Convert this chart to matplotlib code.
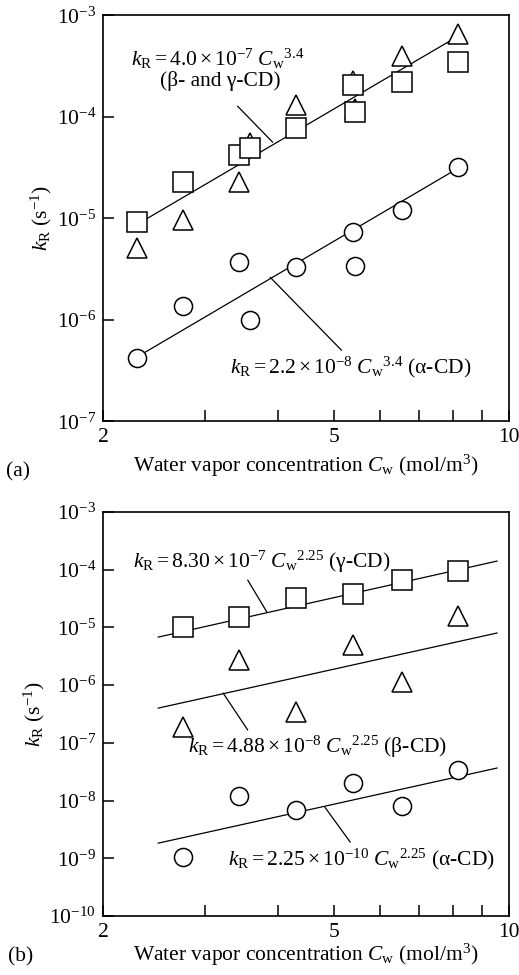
import numpy as np
import matplotlib
matplotlib.use("Agg")
import matplotlib.pyplot as plt
from matplotlib.ticker import FixedLocator, NullFormatter, LogFormatterSciNotation, FixedFormatter

plt.rcParams['font.family'] = ['Liberation Serif', 'DejaVu Serif']
plt.rcParams['mathtext.fontset'] = 'custom'
plt.rcParams['mathtext.rm'] = 'Liberation Serif'
plt.rcParams['mathtext.it'] = 'Liberation Serif:italic'
plt.rcParams['mathtext.bf'] = 'Liberation Serif:bold'

# ---- panel (a) data ----
a_sq_x = [2.29, 2.75, 3.43, 3.58, 4.30, 5.38, 5.44, 6.54, 8.17]
a_sq_y = [9.1e-6, 2.26e-5, 4.2e-5, 4.9e-5, 7.7e-5, 2.04e-4, 1.11e-4, 2.19e-4, 3.44e-4]
a_tri_x = [2.29, 2.75, 3.43, 3.58, 4.30, 5.38, 5.44, 6.54, 8.17]
a_tri_y = [5.1e-6, 9.5e-6, 2.26e-5, 5.5e-5, 1.3e-4, 2.25e-4, 1.2e-4, 4.0e-4, 6.6e-4]
a_cir_x = [2.29, 2.75, 3.43, 3.58, 4.30, 5.38, 5.44, 6.54, 8.17]
a_cir_y = [4.2e-7, 1.36e-6, 3.7e-6, 1.0e-6, 3.3e-6, 7.3e-6, 3.4e-6, 1.2e-5, 3.2e-5]
a_fit_x = [2.29, 8.17]
a_fit_bg_y = [8.7e-6, 6.2e-4]     # beta- and gamma-CD
a_fit_al_y = [4.3e-7, 3.1e-5]     # alpha-CD
a_yticks = [1e-7, 1e-6, 1e-5, 1e-4, 1e-3]

# ---- panel (b) data ----
b_x = [2.75, 3.43, 4.30, 5.38, 6.54, 8.17]
b_sq_y = [1.0e-5, 1.51e-5, 3.2e-5, 3.8e-5, 6.6e-5, 9.5e-5]
b_tri_y = [1.9e-7, 2.7e-6, 3.4e-7, 4.95e-6, 1.13e-6, 1.58e-5]
b_cir_y = [1.05e-9, 1.2e-8, 6.8e-9, 2.0e-8, 8.0e-9, 3.4e-8]
b_fit_x = [2.49, 9.54]
b_fit_ga_y = [6.8e-6, 1.41e-4]
b_fit_be_y = [4.0e-7, 8.0e-6]
b_fit_al_y = [1.83e-9, 3.66e-8]
b_yticks = [1e-10, 1e-9, 1e-8, 1e-7, 1e-6, 1e-5, 1e-4, 1e-3]

x_major = [2, 5, 10]
x_minor = [3, 4, 6, 7, 8, 9]

FS = 15.5
xlabel = r'Water vapor concentration $C_{\mathrm{w}}$ (mol/m$^3$)'
ylabel = r'$k_{\mathrm{R}}$ (s$^{-1}$)'

fig = plt.figure(figsize=(5.19, 9.75), dpi=100)
ax_a = fig.add_axes([0.1985, 0.568, 0.782, 0.4164])
ax_b = fig.add_axes([0.1985, 0.0605, 0.782, 0.4144])

mk = dict(mfc='white', mec='black', mew=1.1, ls='none', zorder=3)


def style_axes(ax, yticks, xpad):
    ax.set_xscale('log')
    ax.set_yscale('log')
    ax.set_xlim(2, 10)
    ax.set_ylim(yticks[0], yticks[-1])
    ax.xaxis.set_major_locator(FixedLocator(x_major))
    ax.xaxis.set_major_formatter(FixedFormatter([str(v) for v in x_major]))
    ax.xaxis.set_minor_locator(FixedLocator(x_minor))
    ax.xaxis.set_minor_formatter(NullFormatter())
    ax.yaxis.set_major_locator(FixedLocator(yticks))
    ax.yaxis.set_major_formatter(LogFormatterSciNotation())
    ax.yaxis.set_minor_locator(FixedLocator([]))
    ax.tick_params(which='both', direction='in', length=8, width=1.1,
                   top=False, right=False, labelsize=FS, pad=5)
    for s in ax.spines.values():
        s.set_linewidth(1.2)
    ax.set_xlabel(xlabel, fontsize=FS, labelpad=xpad)
    ax.set_ylabel(ylabel, fontsize=FS, labelpad=2)


# panel (a)
ax = ax_a
ax.plot(a_fit_x, a_fit_bg_y, color='black', lw=0.9, zorder=2)
ax.plot(a_fit_x, a_fit_al_y, color='black', lw=0.9, zorder=2)
ax.plot(a_cir_x, a_cir_y, marker='o', ms=13, **mk)
ax.plot(a_tri_x, a_tri_y, marker='^', ms=14, **mk)
ax.plot(a_sq_x, a_sq_y, marker='s', ms=14, **mk)
style_axes(ax, a_yticks, 4)
ax.annotate('', xy=(3.92, 5.6e-5), xytext=(3.41, 1.27e-4),
            arrowprops=dict(arrowstyle='-', lw=0.9, shrinkA=0, shrinkB=0))
ax.annotate('', xy=(3.88, 2.62e-6), xytext=(5.15, 5.0e-7),
            arrowprops=dict(arrowstyle='-', lw=0.9, shrinkA=0, shrinkB=0))
ax.text(0.069, 0.893, r'$k_{\mathrm{R}}=4.0\times10^{-7}\ {C_{\mathrm{w}}}^{3.4}$',
        transform=ax.transAxes, fontsize=FS, ha='left', va='center')
ax.text(0.14, 0.837, '(β- and γ-CD)', transform=ax.transAxes,
        fontsize=FS, ha='left', va='center')
ax.text(0.313, 0.133, r'$k_{\mathrm{R}}=2.2\times10^{-8}\ {C_{\mathrm{w}}}^{3.4}$ (α-CD)',
        transform=ax.transAxes, fontsize=FS, ha='left', va='center')
fig.text(0.012, 0.516, '(a)', fontsize=FS, ha='left', va='center')

# panel (b)
ax = ax_b
ax.plot(b_fit_x, b_fit_ga_y, color='black', lw=0.9, zorder=2)
ax.plot(b_fit_x, b_fit_be_y, color='black', lw=0.9, zorder=2)
ax.plot(b_fit_x, b_fit_al_y, color='black', lw=0.9, zorder=2)
ax.plot(b_x, b_cir_y, marker='o', ms=13, **mk)
ax.plot(b_x, b_tri_y, marker='^', ms=14, **mk)
ax.plot(b_x, b_sq_y, marker='s', ms=14, **mk)
style_axes(ax, b_yticks, 0)
ax.annotate('', xy=(3.83, 1.85e-5), xytext=(3.55, 6.6e-5),
            arrowprops=dict(arrowstyle='-', lw=0.9, shrinkA=0, shrinkB=0))
ax.annotate('', xy=(3.22, 7.3e-7), xytext=(3.55, 1.67e-7),
            arrowprops=dict(arrowstyle='-', lw=0.9, shrinkA=0, shrinkB=0))
ax.annotate('', xy=(4.82, 7.7e-9), xytext=(5.33, 1.91e-9),
            arrowprops=dict(arrowstyle='-', lw=0.9, shrinkA=0, shrinkB=0))
ax.text(0.074, 0.876, r'$k_{\mathrm{R}}=8.30\times10^{-7}\ {C_{\mathrm{w}}}^{2.25}$ (γ-CD)',
        transform=ax.transAxes, fontsize=FS, ha='left', va='center')
ax.text(0.209, 0.418, r'$k_{\mathrm{R}}=4.88\times10^{-8}\ {C_{\mathrm{w}}}^{2.25}$ (β-CD)',
        transform=ax.transAxes, fontsize=FS, ha='left', va='center')
ax.text(0.309, 0.139, r'$k_{\mathrm{R}}=2.25\times10^{-10}\ {C_{\mathrm{w}}}^{2.25}$ (α-CD)',
        transform=ax.transAxes, fontsize=FS, ha='left', va='center')
fig.text(0.015, 0.019, '(b)', fontsize=FS, ha='left', va='center')

fig.savefig('out.png', dpi=100)
